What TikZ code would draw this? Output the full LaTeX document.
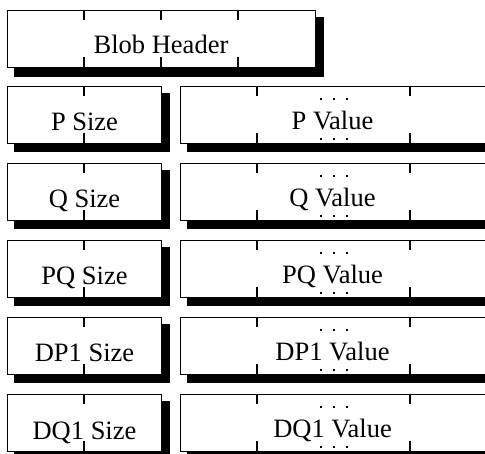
\documentclass[tikz,border=0pt]{standalone}
\usepackage{fontspec}
\setmainfont{Liberation Serif}
\begin{document}
\begin{tikzpicture}[x=1pt,y=-1pt,
  cell/.style={draw=black, line width=0.9pt, fill=white, rectangle, inner sep=0pt, anchor=north west},
  tickmark/.style={line width=1.4pt},
  shade/.style={fill=black},
  lbl/.style={font=\fontsize{26.5}{30}\selectfont, anchor=base, inner sep=0pt},
  dotmark/.style={fill=black, rectangle, minimum size=2pt, inner sep=0pt}]
\useasboundingbox (0,0) rectangle (485,454);
\clip (0,0) rectangle (485,454);

% header block: four 77pt fields
\fill[shade] (14,17) rectangle (324,77);
\node[cell, minimum width=308pt, minimum height=57pt] (hdr) at (7,10) {};
\foreach \x in {84,161,238} {
  \draw[tickmark] (\x,10) -- (\x,20);
  \draw[tickmark] (\x,57) -- (\x,67);
}
\node[lbl] (hdrtxt) at (161,54) {Blob Header};

% key component rows: size field followed by a variable-length value field
\foreach \name [count=\i from 0] in {P,Q,PQ,DP1,DQ1} {
  \pgfmathsetmacro{\top}{86+77*\i}
  \pgfmathsetmacro{\bot}{\top+57}
  % shadows
  \fill[shade] (14,\top+7) rectangle (169.5,\bot+9);
  \fill[shade] (187,\top+7) rectangle (495,\bot+9);
  % size field
  \node[cell, minimum width=154pt, minimum height=57pt] (size\i) at (7,\top) {};
  \draw[tickmark] (84,\top) -- (84,\top+10);
  \draw[tickmark] (84,\bot-10) -- (84,\bot);
  \node[lbl] (sizetxt\i) at (84.5,\top+45) {\name{} Size};
  % value field
  \node[cell, minimum width=306pt, minimum height=57pt] (val\i) at (180,\top) {};
  \foreach \x in {257,410} {
    \draw[tickmark] (\x,\top) -- (\x,\top+10);
    \draw[tickmark] (\x,\bot-10) -- (\x,\bot);
  }
  \node[lbl] (valtxt\i) at (332.5,\top+44) {\name{} Value};
  \foreach \x in {320.5,333.5,346.5} {
    \node[dotmark] at (\x,\top+13.5) {};
    \node[dotmark] at (\x,\top+53) {};
  }
}
\end{tikzpicture}
\end{document}
